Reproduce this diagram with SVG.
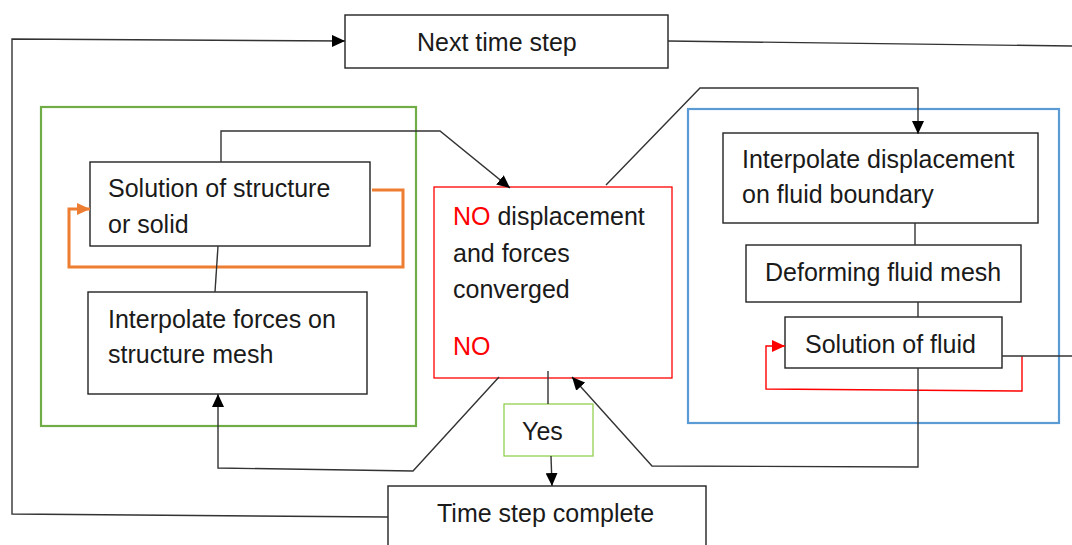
<svg xmlns="http://www.w3.org/2000/svg" width="1072" height="545" viewBox="0 0 1072 545">
<style>
text{font-family:"Liberation Sans",Arial,sans-serif;font-size:25px;fill:#1a1a1a}
.box{fill:#fff;stroke:#222;stroke-width:1.4}
.con{fill:none;stroke:#333;stroke-width:1.4}
.red{fill:#ff0000}
</style>
<defs>
<marker id="ab" markerUnits="userSpaceOnUse" markerWidth="14" markerHeight="12" refX="13" refY="6" orient="auto"><path d="M0,0 L13,6 L0,12 z" fill="#000"/></marker>
<marker id="ao" markerUnits="userSpaceOnUse" markerWidth="14" markerHeight="12" refX="13" refY="6" orient="auto"><path d="M0,0 L13,6 L0,12 z" fill="#ED7D31"/></marker>
<marker id="ar" markerUnits="userSpaceOnUse" markerWidth="14" markerHeight="12" refX="13" refY="6" orient="auto"><path d="M0,0 L13,6 L0,12 z" fill="#ff0000"/></marker>
</defs>
<g id="structure-group"><rect x="41" y="107" width="375" height="319" fill="none" stroke="#70AD47" stroke-width="2.2"/></g>
<g id="fluid-group"><rect x="688" y="109" width="371" height="314" fill="none" stroke="#5B9BD5" stroke-width="2.2"/></g>
<g id="next-time-step"><rect class="box" x="345" y="15" width="323" height="53"/><text x="417" y="51">Next time step</text></g>
<g id="solution-structure"><rect class="box" x="90" y="162" width="280" height="84"/><text x="108" y="197">Solution of structure</text><text x="108" y="233">or solid</text></g>
<g id="interpolate-forces"><rect class="box" x="88" y="292" width="279" height="102"/><text x="108" y="328">Interpolate forces on</text><text x="108" y="363">structure mesh</text></g>
<g id="converged"><rect x="434" y="187" width="238" height="191" fill="#fff" stroke="#ff0000" stroke-width="1.3"/><text x="453" y="225"><tspan class="red">NO</tspan> displacement</text><text x="453" y="262">and forces</text><text x="453" y="298">converged</text><text x="453" y="355" class="red">NO</text></g>
<g id="interpolate-displacement"><rect class="box" x="723" y="133" width="315" height="90"/><text x="742" y="168">Interpolate displacement</text><text x="742" y="203">on fluid boundary</text></g>
<g id="deforming-mesh"><rect class="box" x="746" y="245" width="275" height="57"/><text x="765" y="281">Deforming fluid mesh</text></g>
<g id="solution-fluid"><rect class="box" x="785" y="317" width="217" height="51"/><text x="805" y="353">Solution of fluid</text></g>
<g id="yes"><rect x="504" y="404" width="89" height="52" fill="#fff" stroke="#92D050" stroke-width="1.3"/><text x="522" y="440">Yes</text></g>
<g id="time-step-complete"><rect class="box" x="388" y="486" width="318" height="70"/><text x="437" y="522">Time step complete</text></g>
<g id="connectors">
<path class="con" d="M388,517 L12,514 L12,39 L345,41" marker-end="url(#ab)"/>
<path class="con" d="M668,41 L1072,46"/>
<path class="con" d="M221,162 L221,131 L440,131 L510,188" marker-end="url(#ab)"/>
<path d="M372,190 L403,190 L403,267 L69,267 L69,209 L90,209" fill="none" stroke="#ED7D31" stroke-width="3" marker-end="url(#ao)"/>
<path class="con" d="M218,246 L215,292"/>
<path class="con" d="M499,377 L413,471 L218,468 L218,394" marker-end="url(#ab)"/>
<path class="con" d="M606,185 L700,88 L918,88 L918,134" marker-end="url(#ab)"/>
<path class="con" d="M915,223 L915,245"/>
<path class="con" d="M918,302 L918,317"/>
<path d="M1022,356 L1022,391 L766,389 L766,346 L785,346" fill="none" stroke="#ff0000" stroke-width="1.4" marker-end="url(#ar)"/>
<path class="con" d="M1002,356 L1072,356"/>
<path class="con" d="M918,368 L918,467 L652,466 L572,377" marker-end="url(#ab)"/>
<path class="con" d="M548,371 L548,404"/>
<path class="con" d="M551,456 L552,486" marker-end="url(#ab)"/>
</g>
</svg>
